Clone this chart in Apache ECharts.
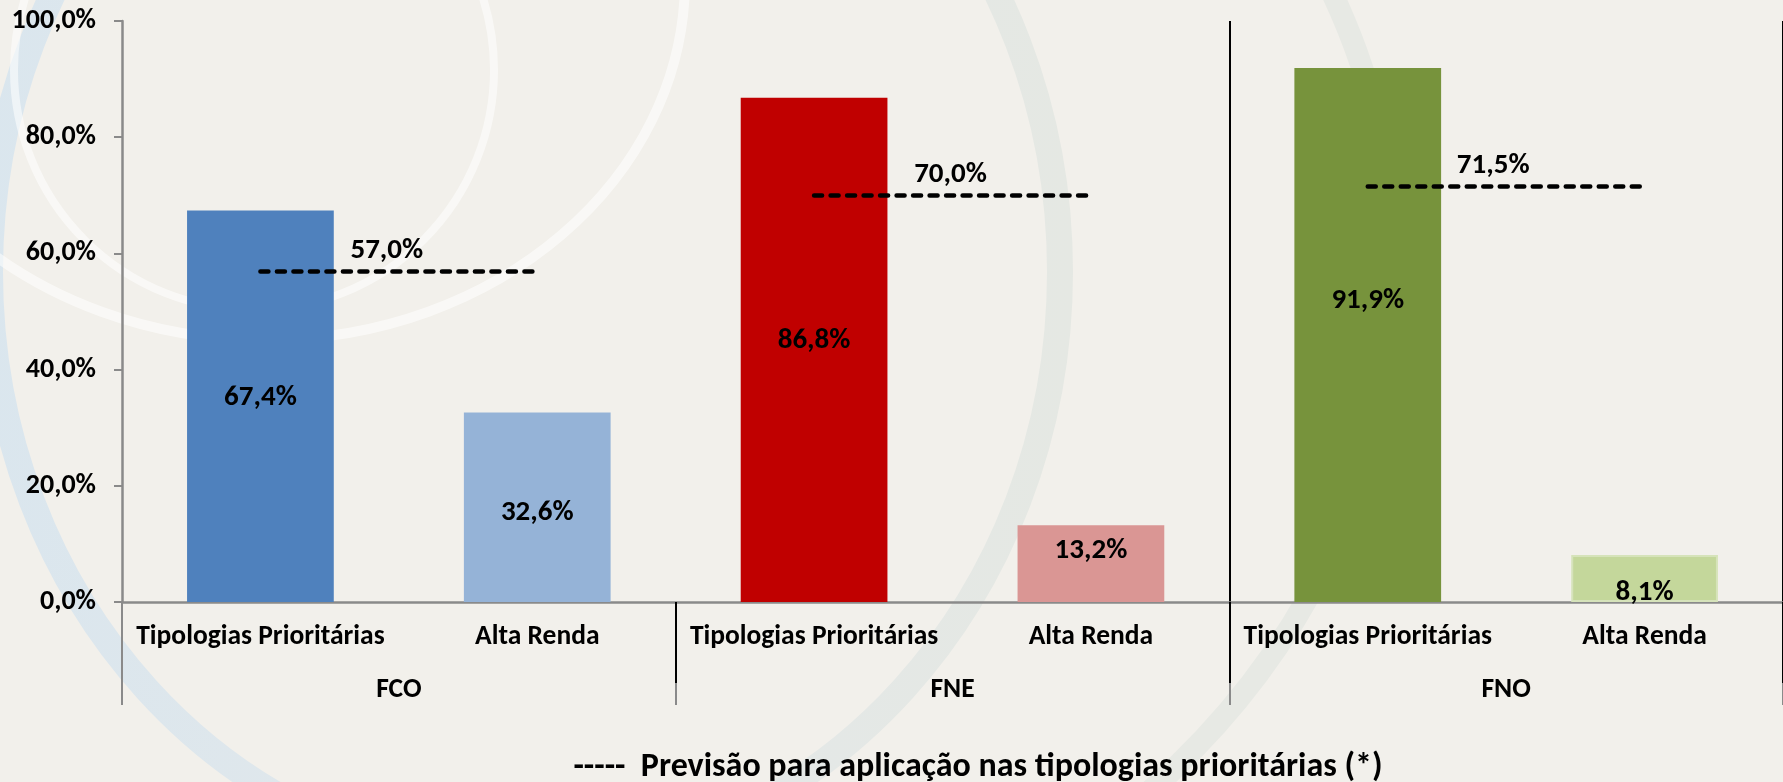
<!DOCTYPE html>
<html>
<head>
<meta charset="utf-8">
<script src="https://cdn.jsdelivr.net/npm/echarts@6/dist/echarts.min.js"></script>
<style>
  html, body { margin: 0; padding: 0; background: #F2F0EB; }
  #chart { width: 1783px; height: 782px; }
</style>
</head>
<body>
<div id="chart"></div>
<script>
// ---- data ----
const categories = ['Tipologias Prioritárias', 'Alta Renda', 'Tipologias Prioritárias', 'Alta Renda', 'Tipologias Prioritárias', 'Alta Renda'];
const groups = ['FCO', 'FNE', 'FNO'];
const shares = [67.4, 32.6, 86.8, 13.2, 91.9, 8.1];
const forecast = [57.0, 70.0, 71.5];
const yMin = 0, yMax = 100, yStep = 20;
const legendText = '-----  Previsão para aplicação nas tipologias prioritárias (*)';

// ---- styles ----
const FONT = "Carlito, 'Liberation Sans Narrow', 'DejaVu Sans Condensed', sans-serif";
const barColors = ['#4F81BD', '#95B3D7', '#C00000', '#DA9694', '#77933C', '#C4D79B'];
const barBorders = [null, null, null, null, null, '#D6E3BA'];
const labelShiftY = [-8, 5, -9, -13, -34, 14];
const forecastPadRight = [24, 4, 26];
const AXIS_GRAY = '#8A8A8A';

const fmt = v => v.toFixed(1).replace('.', ',') + '%';
const txt = (size) => ({ fontFamily: FONT, fontWeight: 'bold', fontSize: size, color: '#000' });

const chart = echarts.init(document.getElementById('chart'), null, { renderer: 'canvas' });

const barData = shares.map((v, i) => ({
  value: v,
  itemStyle: barBorders[i]
    ? { color: barColors[i], borderColor: barBorders[i], borderWidth: 2 }
    : { color: barColors[i] },
  label: { offset: [0, labelShiftY[i]] }
}));

const forecastSeries = forecast.map((v, g) => ({
  type: 'line',
  xAxisIndex: 0,
  yAxisIndex: 0,
  data: [],
  silent: true,
  z: 5,
  markLine: {
    silent: true,
    symbol: ['none', 'none'],
    animation: false,
    lineStyle: { color: '#000', width: 4.5, type: [8, 8.5], cap: 'round' },
    label: Object.assign({
      show: true,
      position: 'insideMiddleTop',
      distance: 6,
      padding: [0, forecastPadRight[g], 0, 0],
      formatter: () => fmt(v)
    }, txt(29)),
    emphasis: { disabled: true },
    data: [[{ coord: [2 * g, v] }, { coord: [2 * g + 1, v] }]]
  }
}));

const option = {
  backgroundColor: '#F2F0EB',
  animation: false,
  graphic: [
    { type: 'ellipse', z: -10, silent: true, shape: { cx: 525, cy: 272, rx: 535, ry: 590 },
      style: { fill: 'none', lineWidth: 26,
        stroke: { type: 'linear', x: 0, y: 0, x2: 1, y2: 0, colorStops: [
          { offset: 0, color: '#DAE6EE' }, { offset: 0.5, color: '#E3E8EA' }, { offset: 1, color: '#E5E8E3' }] } } },
    { type: 'ellipse', z: -10, silent: true, shape: { cx: 525, cy: 272, rx: 870, ry: 746 },
      style: { fill: 'none', lineWidth: 22, stroke: '#E7E9E4' } },
    { type: 'circle', z: -9, silent: true, shape: { cx: 254, cy: 70, r: 240 },
      style: { fill: 'none', lineWidth: 8, stroke: 'rgba(255,255,255,0.55)' } },
    { type: 'ellipse', z: -9, silent: true, shape: { cx: 265, cy: -20, rx: 420, ry: 360 },
      style: { fill: 'none', lineWidth: 10, stroke: 'rgba(255,255,255,0.55)' } },
    { type: 'text', z: 10, silent: true, x: 978, y: 767,
      style: { text: legendText, align: 'center', verticalAlign: 'middle',
        fill: '#000', font: 'bold 34px ' + FONT } }
  ],
  grid: { left: 122, top: 21, width: 1672, height: 581, containLabel: false },
  xAxis: [
    {
      type: 'category', data: categories, position: 'bottom',
      axisLine: { show: true, lineStyle: { color: AXIS_GRAY, width: 2.5 } },
      axisTick: { show: false },
      axisLabel: Object.assign({ interval: 0, margin: 21 }, txt(27.5)),
      splitLine: { show: false }
    },
    {
      type: 'category', data: groups, position: 'bottom',
      axisLine: { show: false },
      axisTick: { show: true, length: 103, lineStyle: { color: AXIS_GRAY, width: 2 } },
      axisLabel: Object.assign({ interval: 0, margin: 74 }, txt(27.5)),
      splitLine: { show: false }
    },
    {
      type: 'category', data: groups, position: 'bottom',
      axisLine: { show: false },
      axisTick: { show: true, length: 81, interval: (i) => i > 0, lineStyle: { color: '#000', width: 2 } },
      axisLabel: { show: false },
      splitLine: { show: true, interval: (i) => i > 0, showMinLine: false, lineStyle: { color: '#000', width: 2 } }
    }
  ],
  yAxis: {
    type: 'value', min: yMin, max: yMax, interval: yStep,
    axisLine: { show: true, lineStyle: { color: AXIS_GRAY, width: 2.5 } },
    axisTick: { show: true, length: 8, lineStyle: { color: AXIS_GRAY, width: 2 } },
    axisLabel: Object.assign({ margin: 26, formatter: fmt }, txt(28)),
    splitLine: { show: false }
  },
  series: [
    {
      type: 'bar',
      xAxisIndex: 0,
      yAxisIndex: 0,
      barWidth: '53%',
      data: barData,
      label: Object.assign({ show: true, position: 'inside', formatter: p => fmt(p.value) }, txt(29)),
      emphasis: { disabled: true }
    }
  ].concat(forecastSeries)
};

chart.setOption(option);
</script>
</body>
</html>
